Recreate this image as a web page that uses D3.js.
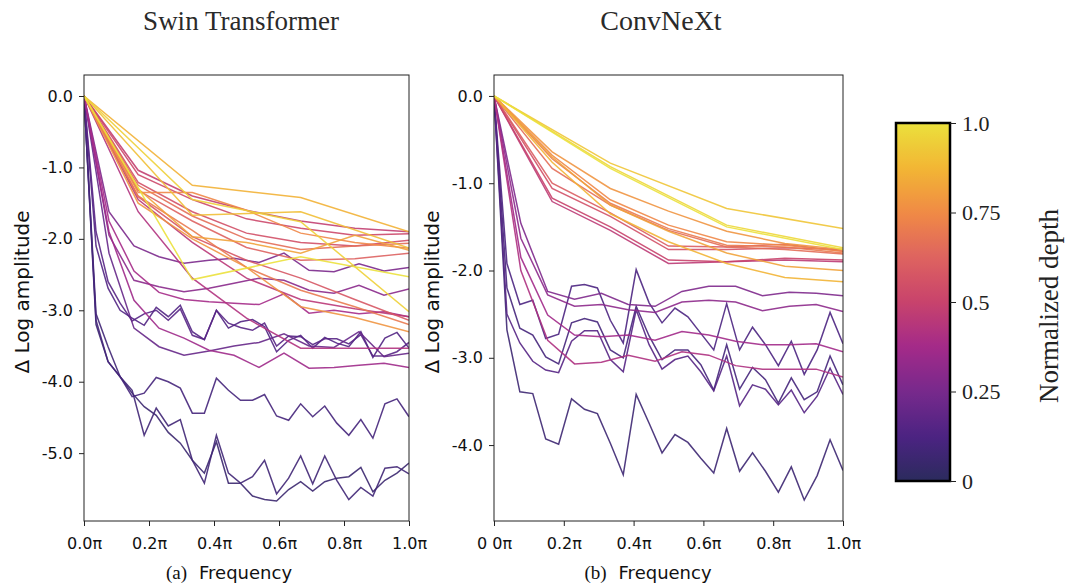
<!DOCTYPE html>
<html><head><meta charset="utf-8">
<script src="https://cdn.jsdelivr.net/npm/d3@7"></script>
<style>body{margin:0;background:#fff}svg{display:block}</style>
</head><body>
<svg id="c" width="1067" height="587"></svg>
<script>
// ---------- data ----------
const cmapPos = [0, 0.125, 0.25, 0.375, 0.5, 0.625, 0.75, 0.875, 1];
const cmapColors = ["#2b2b5d", "#4c2382", "#77298c", "#a42a89", "#c8436c", "#de6360", "#f08a45", "#f2b634", "#ebe13c"];

const xTickValues = [0, 0.2, 0.4, 0.6, 0.8, 1.0];
const xTickLabelsA = ["0.0π", "0.2π", "0.4π", "0.6π", "0.8π", "1.0π"];
const xTickLabelsB = ["0 0π", "0.2π", "0.4π", "0.6π", "0.8π", "1.0π"];
const yTicksA = [0, -1, -2, -3, -4, -5];
const yTicksB = [0, -1, -2, -3, -4];
const cbarTicks = [0, 0.25, 0.5, 0.75, 1.0];
const cbarTickLabels = ["0", "0.25", "0.5", "0.75", "1.0"];

// Swin Transformer: normalized depth of each curve and its Δ log amplitude values (evenly spaced 0..π)
const swinDepth = [0.06, 0.08, 0.10, 0.14, 0.16,
  0.20, 0.26, 0.30, 0.36, 0.38,
  0.42, 0.45, 0.48, 0.52, 0.55, 0.58, 0.62, 0.66, 0.70, 0.74, 0.78, 0.82,
  0.86, 0.90, 0.95, 1.00];
const swinValues = [
  [0,-3.20,-3.72,-3.93,-4.16,-4.35,-4.47,-4.71,-4.86,-5.10,-5.28,-4.84,-5.42,-5.42,-5.60,-5.65,-5.67,-5.51,-5.40,-5.53,-5.40,-5.35,-5.33,-5.20,-5.54,-5.38,-5.28,-5.14],
  [0,-3.05,-3.51,-3.93,-4.12,-4.75,-4.37,-4.62,-4.53,-5.10,-5.42,-4.75,-5.28,-5.42,-5.33,-5.10,-5.57,-5.35,-5.04,-5.43,-5.04,-5.38,-5.65,-5.48,-5.60,-5.21,-5.19,-5.29],
  [0,-3.14,-3.72,-3.93,-4.21,-4.16,-3.94,-4.00,-4.09,-4.44,-4.44,-3.95,-4.12,-4.26,-4.26,-4.18,-4.48,-4.54,-4.31,-4.49,-4.34,-4.58,-4.75,-4.53,-4.79,-4.31,-4.24,-4.49],
  [0,-2.10,-2.69,-3.00,-3.11,-3.21,-2.96,-3.09,-2.93,-3.30,-3.41,-3.00,-3.25,-3.16,-3.13,-3.23,-3.58,-3.42,-3.35,-3.53,-3.38,-3.46,-3.51,-3.30,-3.66,-3.39,-3.31,-3.53],
  [0,-1.90,-2.60,-2.90,-3.15,-3.05,-3.00,-3.14,-2.98,-3.35,-3.41,-3.00,-3.18,-3.24,-3.28,-3.18,-3.50,-3.36,-3.37,-3.48,-3.40,-3.40,-3.47,-3.34,-3.64,-3.64,-3.58,-3.45],
  [0,-2.20,-3.25,-3.51,-3.63,-3.57,-3.50,-3.45,-3.33,-3.50,-3.52,-3.30,-3.65,-3.60],
  [0,-1.62,-2.10,-2.25,-2.34,-2.30,-2.27,-2.33,-2.20,-2.44,-2.46,-2.35,-2.45,-2.40],
  [0,-1.95,-2.58,-2.67,-2.74,-2.69,-2.62,-2.55,-2.58,-2.72,-2.76,-2.65,-2.79,-2.70],
  [0,-1.90,-2.86,-3.25,-3.39,-3.56,-3.63,-3.80,-3.60,-3.81,-3.80,-3.77,-3.74,-3.80],
  [0,-1.75,-2.45,-2.75,-2.85,-2.88,-2.90,-2.92,-2.77,-3.04,-3.00,-3.05,-3.02,-3.09],
  [0,-1.62,-2.55,-3.11,-3.53,-3.53,-3.53],
  [0,-1.45,-2.05,-2.55,-2.85,-2.98,-3.09],
  [0,-1.04,-1.40,-1.60,-1.75,-1.85,-1.90],
  [0,-1.10,-1.45,-1.72,-1.85,-1.95,-1.93],
  [0,-1.21,-1.62,-1.92,-2.05,-2.10,-2.02],
  [0,-1.41,-1.97,-2.30,-2.55,-2.85,-3.14],
  [0,-1.32,-1.75,-2.12,-2.30,-2.28,-2.20],
  [0,-1.25,-1.68,-2.00,-2.15,-2.10,-2.06],
  [0,-1.40,-1.88,-2.40,-2.72,-2.95,-3.20],
  [0,-1.35,-1.35,-1.60,-1.92,-2.05,-2.13],
  [0,-1.50,-2.00,-2.40,-2.95,-3.10,-3.30],
  [0,-1.30,-1.97,-2.05,-2.20,-1.95,-2.16],
  [0,-1.25,-1.42,-1.90],
  [0,-1.67,-1.62,-2.13],
  [0,-1.45,-1.76,-3.02],
  [0,-2.57,-2.25,-2.53]
];

// ConvNeXt
const convDepth = [0.07, 0.10, 0.12, 0.15,
  0.27, 0.31, 0.37, 0.41,
  0.46, 0.50, 0.55, 0.60, 0.66, 0.70, 0.74, 0.78, 0.82, 0.87,
  0.92, 0.97, 1.00];
const convValues = [
  [0,-2.68,-3.39,-3.41,-3.93,-3.99,-3.47,-3.59,-3.64,-3.98,-4.34,-3.42,-3.75,-4.09,-3.88,-3.97,-4.15,-4.32,-3.81,-4.30,-4.09,-4.30,-4.54,-4.25,-4.63,-4.35,-3.94,-4.29],
  [0,-2.20,-2.66,-2.74,-2.99,-3.07,-2.60,-2.55,-2.59,-2.91,-3.00,-2.41,-2.75,-3.02,-2.91,-2.91,-3.08,-3.37,-2.85,-3.36,-3.11,-3.25,-3.52,-3.23,-3.48,-3.39,-2.98,-3.31],
  [0,-1.92,-2.39,-2.34,-2.78,-2.73,-2.18,-2.16,-2.20,-2.57,-2.83,-1.99,-2.37,-2.60,-2.43,-2.53,-2.72,-2.91,-2.38,-2.91,-2.65,-2.85,-3.09,-2.81,-3.19,-2.91,-2.48,-2.84],
  [0,-2.50,-2.83,-3.04,-3.14,-3.17,-2.81,-2.69,-2.69,-3.02,-3.16,-2.45,-2.85,-3.13,-3.02,-2.98,-3.16,-3.38,-2.98,-3.55,-3.31,-3.36,-3.54,-3.37,-3.63,-3.44,-3.12,-3.42],
  [0,-1.46,-2.24,-2.33,-2.26,-2.39,-2.41,-2.24,-2.18,-2.18,-2.29,-2.25,-2.26,-2.29],
  [0,-1.63,-2.28,-2.41,-2.39,-2.45,-2.48,-2.36,-2.34,-2.36,-2.46,-2.41,-2.39,-2.47],
  [0,-1.85,-2.51,-2.74,-2.76,-2.74,-2.80,-2.70,-2.74,-2.81,-2.85,-2.85,-2.84,-2.93],
  [0,-2.00,-2.80,-3.07,-3.05,-2.97,-3.04,-2.93,-2.97,-3.09,-3.13,-3.13,-3.13,-3.22],
  [0,-1.21,-1.54,-1.92,-1.90,-1.88,-1.90],
  [0,-1.17,-1.50,-1.88,-1.90,-1.86,-1.88],
  [0,-1.06,-1.38,-1.76,-1.76,-1.74,-1.76],
  [0,-1.00,-1.34,-1.72,-1.73,-1.70,-1.78],
  [0,-0.83,-1.25,-1.54,-1.73,-1.76,-1.81],
  [0,-0.72,-1.23,-1.52,-1.71,-1.73,-1.80],
  [0,-0.68,-1.19,-1.48,-1.67,-1.71,-1.78],
  [0,-0.64,-1.06,-1.32,-1.55,-1.69,-1.76],
  [0,-0.70,-1.25,-1.55,-1.80,-1.95,-2.00],
  [0,-0.76,-1.35,-1.67,-1.92,-2.08,-2.13],
  [0,-0.77,-1.29,-1.52],
  [0,-0.81,-1.48,-1.74],
  [0,-0.83,-1.50,-1.76]
];

// ---------- drawing ----------
const svg = d3.select("#c");
const cmap = d3.scaleLinear().domain(cmapPos).range(cmapColors).interpolate(d3.interpolateRgb);
const sans = "'DejaVu Sans', sans-serif";
const serif = "'Liberation Serif', 'Times New Roman', serif";

function panel(opts) {
  const {x0, x1, y0, y1, yDomain, yTicks, xLabels, depth, values, title, titleX, titleSize, sub, subX, ylabX} = opts;
  const x = d3.scaleLinear().domain([0, 1]).range([x0, x1]);
  const y = d3.scaleLinear().domain(yDomain).range([y1, y0]);
  const g = svg.append("g");
  const clipId = "clip" + Math.round(x0);
  svg.append("clipPath").attr("id", clipId).append("rect")
    .attr("x", x0).attr("y", y0).attr("width", x1 - x0).attr("height", y1 - y0);
  const line = d3.line().x(d => x(d[0])).y(d => y(d[1]));
  const lg = g.append("g").attr("clip-path", `url(#${clipId})`);
  values.forEach((vals, i) => {
    const n = vals.length;
    const pts = vals.map((v, k) => [k / (n - 1), v]);
    lg.append("path").attr("d", line(pts)).attr("fill", "none")
      .attr("stroke", cmap(depth[i])).attr("stroke-width", 1.5)
      .attr("stroke-opacity", 0.9).attr("stroke-linejoin", "miter");
  });
  g.append("rect").attr("x", x0).attr("y", y0).attr("width", x1 - x0).attr("height", y1 - y0)
    .attr("fill", "none").attr("stroke", "#222").attr("stroke-width", 1);
  const ay = g.append("g").attr("transform", `translate(${x0},0)`)
    .call(d3.axisLeft(y).tickValues(yTicks).tickFormat(d => d.toFixed(1)).tickSizeInner(5).tickSizeOuter(0).tickPadding(6));
  const ax = g.append("g").attr("transform", `translate(0,${y1})`)
    .call(d3.axisBottom(x).tickValues(xTickValues).tickFormat((d, i) => xLabels[i]).tickSizeInner(5).tickSizeOuter(0).tickPadding(12));
  [ax, ay].forEach(a => {
    a.select(".domain").remove();
    a.selectAll("line").attr("stroke", "#222");
    a.selectAll("text").attr("font-family", sans).attr("font-size", 16).attr("fill", "#111");
  });
  svg.append("text").attr("x", titleX).attr("y", 30).attr("text-anchor", "middle")
    .attr("font-family", serif).attr("font-size", titleSize).attr("fill", "#2a2a2a").text(title);
  svg.append("text").attr("transform", `translate(${ylabX},${(y0 + y1) / 2 - 6}) rotate(-90)`)
    .attr("text-anchor", "middle").attr("font-family", sans).attr("font-size", 20).attr("fill", "#111")
    .text("Δ Log amplitude");
  const t = svg.append("text").attr("x", subX).attr("y", 579).attr("text-anchor", "middle").attr("fill", "#111");
  t.append("tspan").attr("font-family", serif).attr("font-size", 19).text(sub);
  t.append("tspan").attr("font-family", sans).attr("font-size", 18).attr("dx", 12).text("Frequency");
}

panel({x0: 84, x1: 409, y0: 75, y1: 521, yDomain: [-5.95, 0.294], yTicks: yTicksA,
  xLabels: xTickLabelsA, depth: swinDepth, values: swinValues,
  title: "Swin Transformer", titleX: 241, titleSize: 27, sub: "(a)", subX: 229, ylabX: 29});
panel({x0: 494, x1: 843, y0: 75, y1: 521, yDomain: [-4.87, 0.24], yTicks: yTicksB,
  xLabels: xTickLabelsB, depth: convDepth, values: convValues,
  title: "ConvNeXt", titleX: 661, titleSize: 28, sub: "(b)", subX: 648, ylabX: 439});

// colorbar
const cb = {x: 896, y0: 123, y1: 481, w: 54};
const grad = svg.append("defs").append("linearGradient").attr("id", "cbg")
  .attr("x1", 0).attr("y1", 1).attr("x2", 0).attr("y2", 0);
d3.range(0, 1.0001, 0.02).forEach(t => grad.append("stop").attr("offset", t).attr("stop-color", cmap(t)));
svg.append("rect").attr("x", cb.x).attr("y", cb.y0).attr("width", cb.w).attr("height", cb.y1 - cb.y0)
  .attr("fill", "url(#cbg)").attr("stroke", "#000").attr("stroke-width", 2.5);
const cy = d3.scaleLinear().domain([0, 1]).range([cb.y1, cb.y0]);
const cax = svg.append("g").attr("transform", `translate(${cb.x + cb.w},0)`)
  .call(d3.axisRight(cy).tickValues(cbarTicks).tickFormat((d, i) => cbarTickLabels[i]).tickSizeInner(6).tickSizeOuter(0).tickPadding(6));
cax.select(".domain").remove();
cax.selectAll("line").attr("stroke", "#222");
cax.selectAll("text").attr("font-family", serif).attr("font-size", 22).attr("fill", "#222");
svg.append("text").attr("transform", `translate(1058,${(cb.y0 + cb.y1) / 2 + 4}) rotate(-90)`)
  .attr("text-anchor", "middle").attr("font-family", serif).attr("font-size", 27).attr("fill", "#222")
  .text("Normalized depth");
</script>
</body></html>
